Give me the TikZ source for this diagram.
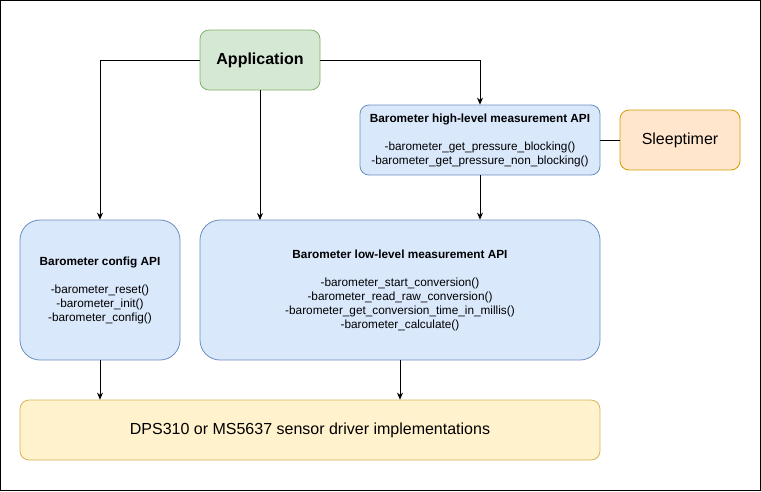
\documentclass[tikz,border=0pt]{standalone}
\usepackage{fontspec}
\setmainfont{Liberation Sans}
\usetikzlibrary{arrows.meta}
\definecolor{gfill}{HTML}{D5E8D4}\definecolor{gline}{HTML}{82B366}
\definecolor{bfill}{HTML}{DAE8FC}\definecolor{bline}{HTML}{6C8EBF}
\definecolor{ofill}{HTML}{FFE6CC}\definecolor{oline}{HTML}{D79B00}
\definecolor{yfill}{HTML}{FFF2CC}\definecolor{yline}{HTML}{D6B656}
\tikzset{
  box/.style={draw, rounded corners=9pt, line width=0.8pt, inner sep=0pt, align=center},
  bigbox/.style={box, rounded corners=20pt},
  small/.style={font=\fontsize{11.8}{14}\selectfont},
  conn/.style={line width=0.8pt, -{Stealth[length=7pt,width=6pt]}},
  plain/.style={line width=0.8pt},
}
\begin{document}
\begin{tikzpicture}[x=1pt,y=-1pt]
\draw[line width=1.2pt] (0.6,0.6) rectangle (760.4,490.4);
\useasboundingbox (0,0) rectangle (761,491);
\node[box, fill=gfill, draw=gline, minimum width=120pt, minimum height=60pt, font=\fontsize{16}{19}\selectfont\bfseries] (app) at (260,60) {Application};
\node[box, small, fill=bfill, draw=bline, minimum width=240pt, minimum height=70pt] (high) at (480,140) {\textbf{Barometer high-level measurement API}\\[14pt]-barometer\_get\_pressure\_blocking()\\-barometer\_get\_pressure\_non\_blocking()};
\node[box, fill=ofill, draw=oline, minimum width=120pt, minimum height=60pt, font=\fontsize{16}{19}\selectfont] (sleep) at (680,140) {Sleeptimer};
\node[bigbox, small, fill=bfill, draw=bline, minimum width=160pt, minimum height=140pt] (cfg) at (100,290) {\textbf{Barometer config API}\\[14pt]-barometer\_reset()\\-barometer\_init()\\-barometer\_config()};
\node[bigbox, small, fill=bfill, draw=bline, minimum width=400pt, minimum height=140pt] (low) at (400,290) {\textbf{Barometer low-level measurement API}\\[14pt]-barometer\_start\_conversion()\\-barometer\_read\_raw\_conversion()\\-barometer\_get\_conversion\_time\_in\_millis()\\-barometer\_calculate()};
\node[box, fill=yfill, draw=yline, minimum width=580pt, minimum height=60pt, font=\fontsize{16}{19}\selectfont] (drv) at (310,430) {DPS310 or MS5637 sensor driver implementations};
\coordinate (c1) at (100,60);
\coordinate (c2) at (480,60);
\draw[conn] (app.west) -- (c1) -- (cfg.north);
\draw[conn] (app.south) -- (260,220);
\draw[conn] (app.east) -- (c2) -- (high.north);
\draw[conn] (high.south) -- (low.north -| high.south);
\draw[plain] (high.east) -- (sleep.west);
\draw[conn] (cfg.south) -- (drv.north -| cfg.south);
\draw[conn] (low.south) -- (drv.north -| low.south);
\end{tikzpicture}
\end{document}
